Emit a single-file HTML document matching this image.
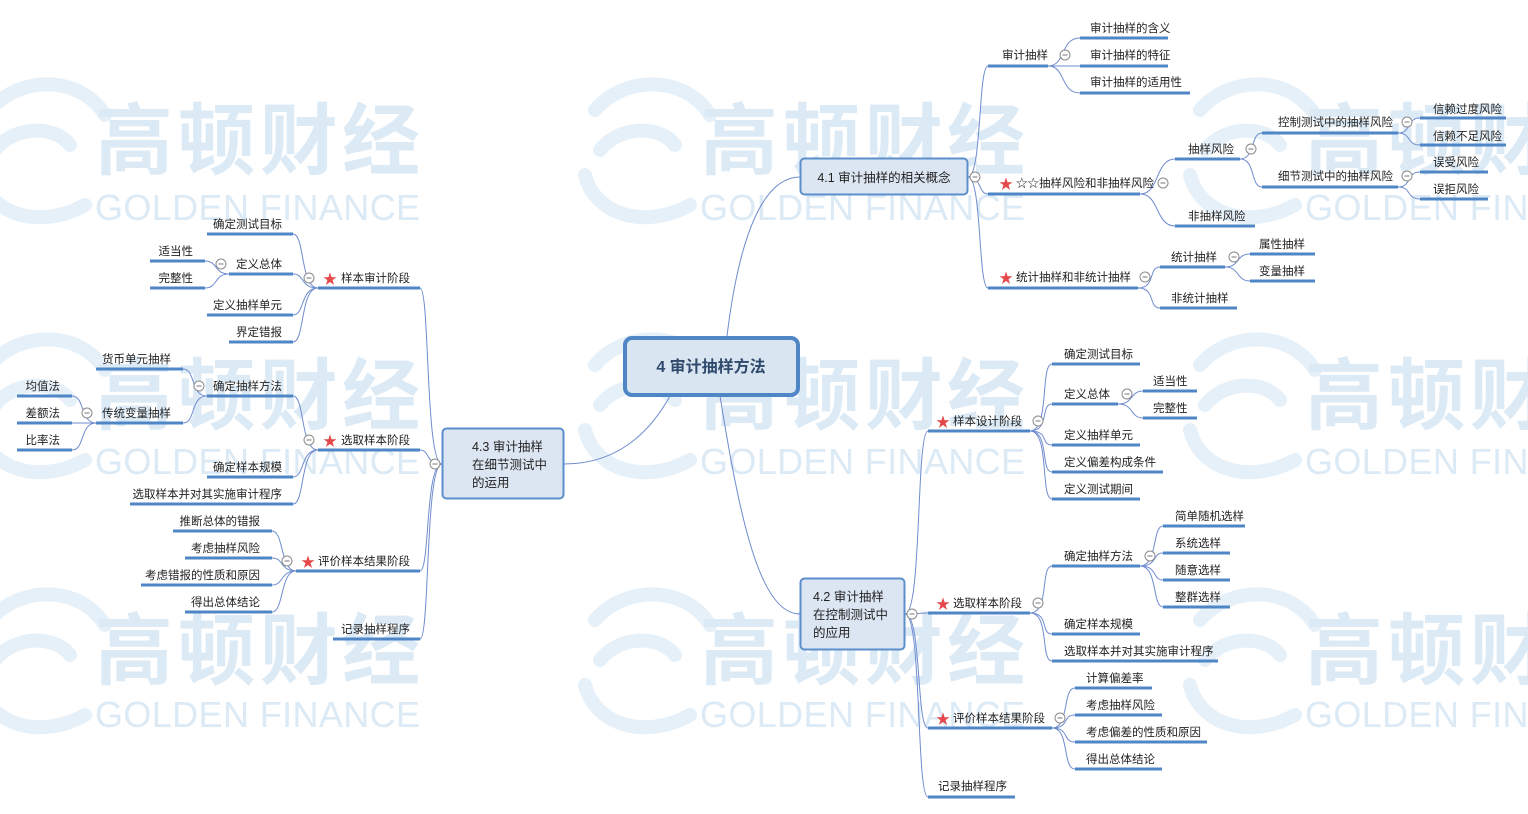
<!DOCTYPE html>
<html><head><meta charset="utf-8"><style>
html,body{margin:0;padding:0;background:#fff;}
svg{display:block;}
text{font-family:"Liberation Sans","Noto Sans CJK SC",sans-serif;}
.t{font-size:11.5px;fill:#222;}
.u{stroke:#4f86c6;stroke-width:3;fill:none;}
.c{stroke:#6f8ccf;stroke-width:1;fill:none;}
.wm{fill:#dceaf6;font-family:"Noto Sans CJK SC",sans-serif;font-size:78px;font-weight:bold;}
.wg{fill:#dceaf6;font-size:36px;font-family:"Liberation Sans",sans-serif;}
.sw{stroke:#e6f0f9;stroke-width:14;fill:none;stroke-linecap:round;}
.st{fill:#e5484a;font-size:14px;}
</style></head><body>
<svg width="1528" height="814" viewBox="0 0 1528 814" xmlns="http://www.w3.org/2000/svg">
<defs>
<g id="logo">
<path class="sw" d="M-60,-40 C-30,-75 30,-75 55,-35"/>
<path class="sw" d="M-55,0 C-35,-25 5,-25 20,-5"/>
<path class="sw" d="M-70,25 C-60,65 -10,80 35,55"/>
</g>
<g id="mc"><circle r="5" fill="#fff" stroke="#8a8a8a" stroke-width="1"/><line x1="-2.5" y1="0" x2="2.5" y2="0" stroke="#777" stroke-width="1"/></g>
</defs>
<g>
<use href="#logo" x="50" y="150"/><use href="#logo" x="655" y="150"/><use href="#logo" x="1260" y="150"/>
<use href="#logo" x="50" y="405"/><use href="#logo" x="655" y="405"/><use href="#logo" x="1260" y="405"/>
<use href="#logo" x="50" y="660"/><use href="#logo" x="655" y="660"/><use href="#logo" x="1260" y="660"/>
<text class="wm" x="95" y="168" textLength="325">高顿财经</text>
<text class="wm" x="700" y="168" textLength="325">高顿财经</text>
<text class="wm" x="1305" y="168" textLength="325">高顿财经</text>
<text class="wm" x="95" y="423" textLength="325">高顿财经</text>
<text class="wm" x="700" y="423" textLength="325">高顿财经</text>
<text class="wm" x="1305" y="423" textLength="325">高顿财经</text>
<text class="wm" x="95" y="678" textLength="325">高顿财经</text>
<text class="wm" x="700" y="678" textLength="325">高顿财经</text>
<text class="wm" x="1305" y="678" textLength="325">高顿财经</text>
<text class="wg" x="95" y="220" textLength="325">GOLDEN FINANCE</text>
<text class="wg" x="700" y="220" textLength="325">GOLDEN FINANCE</text>
<text class="wg" x="1305" y="220" textLength="325">GOLDEN FINANCE</text>
<text class="wg" x="95" y="474" textLength="325">GOLDEN FINANCE</text>
<text class="wg" x="700" y="474" textLength="325">GOLDEN FINANCE</text>
<text class="wg" x="1305" y="474" textLength="325">GOLDEN FINANCE</text>
<text class="wg" x="95" y="727" textLength="325">GOLDEN FINANCE</text>
<text class="wg" x="700" y="727" textLength="325">GOLDEN FINANCE</text>
<text class="wg" x="1305" y="727" textLength="325">GOLDEN FINANCE</text>
</g>

<path class="c" d="M727,336 C740,230 765,177 800,177"/>
<path class="c" d="M720,396 C740,520 760,614 800,614"/>
<path class="c" d="M670,396 C640,450 600,464 564,464"/>

<g class="c">
<path d="M968,177 C982,177 978,66 988,66"/>
<path d="M968,177 C982,177 978,194 988,194"/>
<path d="M968,177 C982,177 978,288 988,288"/>
<path d="M1048,66 C1066,66 1060,38 1080,38"/>
<path d="M1048,66 L1080,66"/>
<path d="M1048,66 C1066,66 1060,93 1080,93"/>
<path d="M1140,194 C1160,194 1155,159 1175,159"/>
<path d="M1140,194 C1160,194 1155,226 1175,226"/>
<path d="M1240,159 C1256,159 1250,133 1262,133"/>
<path d="M1240,159 C1256,159 1250,187 1262,187"/>
<path d="M1398,133 C1412,133 1406,118 1420,118"/>
<path d="M1398,133 C1412,133 1406,145 1420,145"/>
<path d="M1398,187 C1412,187 1406,172 1420,172"/>
<path d="M1398,187 C1412,187 1406,199 1420,199"/>
<path d="M1138,288 C1156,288 1148,267 1160,267"/>
<path d="M1138,288 C1156,288 1148,308 1160,308"/>
<path d="M1225,267 C1240,267 1236,254 1250,254"/>
<path d="M1225,267 C1240,267 1236,281 1250,281"/>
</g>
<g class="u">
<line x1="988" y1="66" x2="1048" y2="66"/>
<line x1="1080" y1="38" x2="1168" y2="38"/>
<line x1="1080" y1="66" x2="1168" y2="66"/>
<line x1="1080" y1="93" x2="1190" y2="93"/>
<line x1="988" y1="194" x2="1140" y2="194"/>
<line x1="1175" y1="159" x2="1240" y2="159"/>
<line x1="1175" y1="226" x2="1255" y2="226"/>
<line x1="1262" y1="133" x2="1398" y2="133"/>
<line x1="1262" y1="187" x2="1398" y2="187"/>
<line x1="1420" y1="118" x2="1506" y2="118"/>
<line x1="1420" y1="145" x2="1506" y2="145"/>
<line x1="1420" y1="172" x2="1488" y2="172"/>
<line x1="1420" y1="199" x2="1488" y2="199"/>
<line x1="988" y1="288" x2="1138" y2="288"/>
<line x1="1160" y1="267" x2="1225" y2="267"/>
<line x1="1160" y1="308" x2="1237" y2="308"/>
<line x1="1250" y1="254" x2="1315" y2="254"/>
<line x1="1250" y1="281" x2="1315" y2="281"/>
</g>
<g class="t">
<text x="1002" y="59">审计抽样</text>
<text x="1090" y="32">审计抽样的含义</text>
<text x="1090" y="59">审计抽样的特征</text>
<text x="1090" y="86">审计抽样的适用性</text>
<text x="1016" y="187">☆☆抽样风险和非抽样风险</text>
<text x="1188" y="153">抽样风险</text>
<text x="1188" y="220">非抽样风险</text>
<text x="1278" y="126">控制测试中的抽样风险</text>
<text x="1278" y="180">细节测试中的抽样风险</text>
<text x="1433" y="113">信赖过度风险</text>
<text x="1433" y="140">信赖不足风险</text>
<text x="1433" y="166">误受风险</text>
<text x="1433" y="193">误拒风险</text>
<text x="1016" y="281">统计抽样和非统计抽样</text>
<text x="1171" y="261">统计抽样</text>
<text x="1171" y="302">非统计抽样</text>
<text x="1259" y="248">属性抽样</text>
<text x="1259" y="275">变量抽样</text>
</g>

<g class="c">
<path d="M905,614 C922,614 916,431 928,431"/>
<path d="M905,614 C922,614 916,613 928,613"/>
<path d="M905,614 C922,614 916,728 928,728"/>
<path d="M905,614 C922,614 916,797 928,797"/>
<path d="M1030,431 C1050,431 1040,364 1052,364"/>
<path d="M1030,431 C1050,431 1040,404 1052,404"/>
<path d="M1030,431 C1050,431 1040,445 1052,445"/>
<path d="M1030,431 C1050,431 1040,472 1052,472"/>
<path d="M1030,431 C1050,431 1040,499 1052,499"/>
<path d="M1118,404 C1134,404 1130,391 1143,391"/>
<path d="M1118,404 C1134,404 1130,418 1143,418"/>
<path d="M1030,613 C1050,613 1040,566 1052,566"/>
<path d="M1030,613 C1050,613 1040,634 1052,634"/>
<path d="M1030,613 C1050,613 1040,661 1052,661"/>
<path d="M1140,566 C1158,566 1152,526 1163,526"/>
<path d="M1140,566 C1158,566 1152,553 1163,553"/>
<path d="M1140,566 C1158,566 1152,580 1163,580"/>
<path d="M1140,566 C1158,566 1152,607 1163,607"/>
<path d="M1052,728 C1070,728 1062,688 1075,688"/>
<path d="M1052,728 C1070,728 1062,715 1075,715"/>
<path d="M1052,728 C1070,728 1062,742 1075,742"/>
<path d="M1052,728 C1070,728 1062,769 1075,769"/>
</g>
<g class="u">
<line x1="928" y1="431" x2="1030" y2="431"/>
<line x1="1052" y1="364" x2="1140" y2="364"/>
<line x1="1052" y1="404" x2="1118" y2="404"/>
<line x1="1052" y1="445" x2="1140" y2="445"/>
<line x1="1052" y1="472" x2="1163" y2="472"/>
<line x1="1052" y1="499" x2="1140" y2="499"/>
<line x1="1143" y1="391" x2="1197" y2="391"/>
<line x1="1143" y1="418" x2="1197" y2="418"/>
<line x1="928" y1="613" x2="1030" y2="613"/>
<line x1="1052" y1="566" x2="1140" y2="566"/>
<line x1="1052" y1="634" x2="1140" y2="634"/>
<line x1="1052" y1="661" x2="1218" y2="661"/>
<line x1="1163" y1="526" x2="1245" y2="526"/>
<line x1="1163" y1="553" x2="1230" y2="553"/>
<line x1="1163" y1="580" x2="1230" y2="580"/>
<line x1="1163" y1="607" x2="1230" y2="607"/>
<line x1="928" y1="728" x2="1052" y2="728"/>
<line x1="1075" y1="688" x2="1152" y2="688"/>
<line x1="1075" y1="715" x2="1162" y2="715"/>
<line x1="1075" y1="742" x2="1207" y2="742"/>
<line x1="1075" y1="769" x2="1162" y2="769"/>
<line x1="928" y1="797" x2="1015" y2="797"/>
</g>
<g class="t">
<text x="953" y="425">样本设计阶段</text>
<text x="1064" y="358">确定测试目标</text>
<text x="1064" y="398">定义总体</text>
<text x="1064" y="439">定义抽样单元</text>
<text x="1064" y="466">定义偏差构成条件</text>
<text x="1064" y="493">定义测试期间</text>
<text x="1153" y="385">适当性</text>
<text x="1153" y="412">完整性</text>
<text x="953" y="607">选取样本阶段</text>
<text x="1064" y="560">确定抽样方法</text>
<text x="1064" y="628">确定样本规模</text>
<text x="1064" y="655">选取样本并对其实施审计程序</text>
<text x="1175" y="520">简单随机选样</text>
<text x="1175" y="547">系统选样</text>
<text x="1175" y="574">随意选样</text>
<text x="1175" y="601">整群选样</text>
<text x="953" y="722">评价样本结果阶段</text>
<text x="1086" y="682">计算偏差率</text>
<text x="1086" y="709">考虑抽样风险</text>
<text x="1086" y="736">考虑偏差的性质和原因</text>
<text x="1086" y="763">得出总体结论</text>
<text x="938" y="790">记录抽样程序</text>
</g>

<g class="c">
<path d="M442,464 C425,464 430,288 420,288"/>
<path d="M442,464 C425,464 430,450 420,450"/>
<path d="M442,464 C425,464 430,571 420,571"/>
<path d="M442,464 C425,464 430,639 420,639"/>
<path d="M318,288 C300,288 305,234 293,234"/>
<path d="M318,288 C300,288 305,274 293,274"/>
<path d="M318,288 C300,288 305,315 293,315"/>
<path d="M318,288 C300,288 305,342 293,342"/>
<path d="M229,274 C214,274 218,261 205,261"/>
<path d="M229,274 C214,274 218,288 205,288"/>
<path d="M318,450 C300,450 305,396 293,396"/>
<path d="M318,450 C300,450 305,477 293,477"/>
<path d="M318,450 C300,450 305,504 293,504"/>
<path d="M207,396 C190,396 196,369 183,369"/>
<path d="M207,396 C190,396 196,423 183,423"/>
<path d="M96,423 C80,423 85,396 72,396"/>
<path d="M96,423 L72,423"/>
<path d="M96,423 C80,423 85,450 72,450"/>
<path d="M296,571 C280,571 284,531 272,531"/>
<path d="M296,571 C280,571 284,558 272,558"/>
<path d="M296,571 C280,571 284,585 272,585"/>
<path d="M296,571 C280,571 284,612 272,612"/>
</g>
<g class="u">
<line x1="318" y1="288" x2="420" y2="288"/>
<line x1="207" y1="234" x2="293" y2="234"/>
<line x1="229" y1="274" x2="293" y2="274"/>
<line x1="207" y1="315" x2="293" y2="315"/>
<line x1="229" y1="342" x2="293" y2="342"/>
<line x1="150" y1="261" x2="205" y2="261"/>
<line x1="150" y1="288" x2="205" y2="288"/>
<line x1="318" y1="450" x2="420" y2="450"/>
<line x1="207" y1="396" x2="293" y2="396"/>
<line x1="207" y1="477" x2="293" y2="477"/>
<line x1="130" y1="504" x2="293" y2="504"/>
<line x1="96" y1="369" x2="183" y2="369"/>
<line x1="96" y1="423" x2="183" y2="423"/>
<line x1="17" y1="396" x2="72" y2="396"/>
<line x1="17" y1="423" x2="72" y2="423"/>
<line x1="17" y1="450" x2="72" y2="450"/>
<line x1="296" y1="571" x2="420" y2="571"/>
<line x1="173" y1="531" x2="272" y2="531"/>
<line x1="185" y1="558" x2="272" y2="558"/>
<line x1="141" y1="585" x2="272" y2="585"/>
<line x1="185" y1="612" x2="272" y2="612"/>
<line x1="333" y1="639" x2="420" y2="639"/>
</g>
<g class="t" text-anchor="end">
<text x="410" y="282">样本审计阶段</text>
<text x="282" y="228">确定测试目标</text>
<text x="282" y="268">定义总体</text>
<text x="282" y="309">定义抽样单元</text>
<text x="282" y="336">界定错报</text>
<text x="193" y="255">适当性</text>
<text x="193" y="282">完整性</text>
<text x="410" y="444">选取样本阶段</text>
<text x="282" y="390">确定抽样方法</text>
<text x="282" y="471">确定样本规模</text>
<text x="282" y="498">选取样本并对其实施审计程序</text>
<text x="171" y="363">货币单元抽样</text>
<text x="171" y="417">传统变量抽样</text>
<text x="60" y="390">均值法</text>
<text x="60" y="417">差额法</text>
<text x="60" y="444">比率法</text>
<text x="410" y="565">评价样本结果阶段</text>
<text x="260" y="525">推断总体的错报</text>
<text x="260" y="552">考虑抽样风险</text>
<text x="260" y="579">考虑错报的性质和原因</text>
<text x="260" y="606">得出总体结论</text>
<text x="410" y="633">记录抽样程序</text>
</g>

<g class="st">
<text x="999" y="189">★</text>
<text x="999" y="283">★</text>
<text x="936" y="427">★</text>
<text x="936" y="609">★</text>
<text x="936" y="724">★</text>
<text x="323" y="284">★</text>
<text x="323" y="446">★</text>
<text x="301" y="567">★</text>
<text x="453" y="471">★</text>
</g>

<rect x="625" y="338" width="173" height="57" rx="7" fill="#dae5f2" stroke="#4f86c6" stroke-width="4"/>
<text x="711" y="372" text-anchor="middle" style="font-size:16px;font-weight:bold;fill:#2f4a6d;">4 审计抽样方法</text>
<rect x="800.5" y="158.5" width="167" height="36" rx="4" fill="#dce6f2" stroke="#5b8fcc" stroke-width="2"/>
<text x="884" y="182" text-anchor="middle" style="font-size:12.5px;fill:#222;">4.1 审计抽样的相关概念</text>
<rect x="800.5" y="578.5" width="104" height="71" rx="4" fill="#dce6f2" stroke="#5b8fcc" stroke-width="2"/>
<g style="font-size:12.5px;fill:#222;">
<text x="813" y="601">4.2 审计抽样</text>
<text x="813" y="619">在控制测试中</text>
<text x="813" y="637">的应用</text>
</g>
<rect x="442.5" y="428.5" width="121" height="70" rx="4" fill="#dce6f2" stroke="#5b8fcc" stroke-width="2"/>
<g style="font-size:12.5px;fill:#222;">
<text x="472" y="451">4.3 审计抽样</text>
<text x="472" y="469">在细节测试中</text>
<text x="472" y="487">的运用</text>
</g>

<use href="#mc" x="975" y="177"/><use href="#mc" x="1065" y="55"/><use href="#mc" x="1163" y="183"/>
<use href="#mc" x="1251" y="149"/><use href="#mc" x="1407" y="122"/><use href="#mc" x="1407" y="176"/>
<use href="#mc" x="1145" y="277"/><use href="#mc" x="1234" y="257"/><use href="#mc" x="912" y="614"/>
<use href="#mc" x="1038" y="421"/><use href="#mc" x="1127" y="394"/><use href="#mc" x="1038" y="603"/>
<use href="#mc" x="1150" y="556"/><use href="#mc" x="1060" y="718"/>
<use href="#mc" x="435" y="464"/><use href="#mc" x="309" y="278"/><use href="#mc" x="221" y="264"/>
<use href="#mc" x="309" y="440"/><use href="#mc" x="199" y="386"/><use href="#mc" x="87" y="413"/>
<use href="#mc" x="287" y="561"/>
</svg>
</body></html>
